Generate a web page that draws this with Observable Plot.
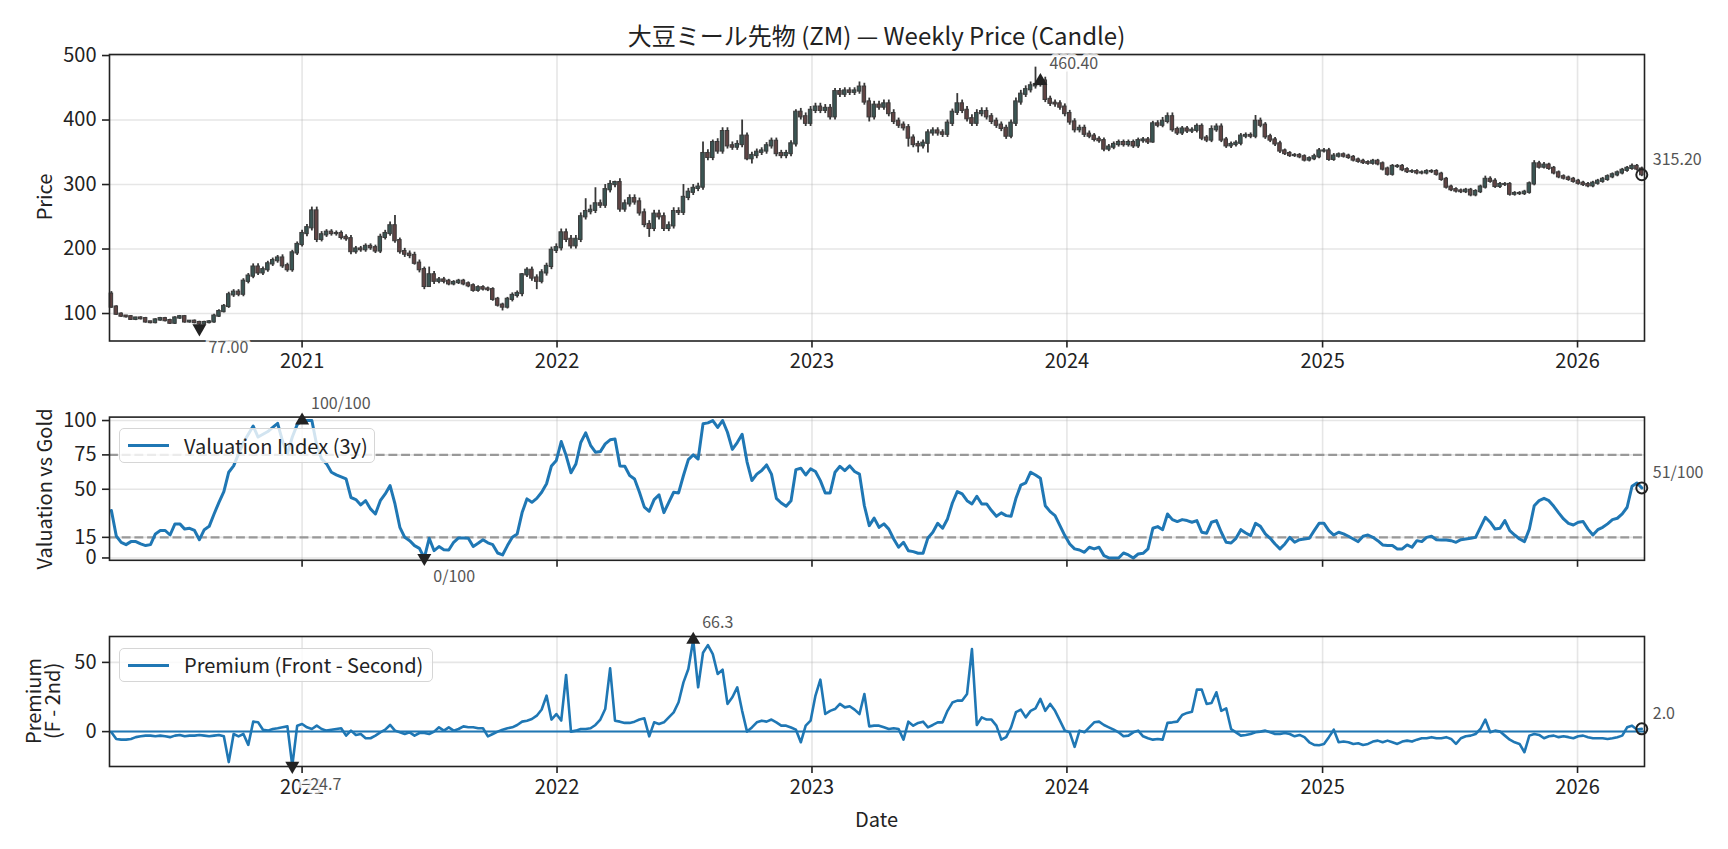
<!DOCTYPE html>
<html>
<head>
<meta charset="utf-8">
<script src="https://cdn.jsdelivr.net/npm/d3@7"></script>
<script src="https://cdn.jsdelivr.net/npm/@observablehq/plot@0.6"></script>
<style>
  html, body { margin: 0; padding: 0; background: #fff; }
  #wrap { position: relative; width: 1728px; height: 849px; overflow: hidden;
          font-family: "Noto Sans CJK JP", "Noto Sans", sans-serif; color: #222; }
  .abs { position: absolute; white-space: nowrap; }
  .ctr { transform: translate(-50%, -50%); }
  .rot { writing-mode: vertical-rl; transform: translate(-50%, -50%) rotate(180deg); text-align: center; }
  .legend { position: absolute; background: rgba(255,255,255,0.8); border: 1.5px solid #d6d6d6;
            border-radius: 5px; box-sizing: border-box; font-size: 20px; }
  .legend .swatch { position: absolute; left: 8px; width: 41px; height: 3px; background: #1f77b4; }
  .legend .lbl { position: absolute; left: 64px; }
</style>
</head>
<body>
<div id="wrap"></div>
<script>
// ---------------- data ----------------
const startWeek = "2020-04-03";
const firstOpen = 130;
const close = [
  110,99,96,95,91,93,92,87,86,90,
  92,89,85,93,95,87,88,86,84,86,
  87,96,103,111,129,133,130,150,158,172,
  163,168,177,182,186,174,168,194,207,224,
  233,259,215,222,226,224,224,218,216,196,
  200,199,204,202,197,218,224,236,213,196,
  192,190,178,168,142,160,150,152,150,146,
  148,150,146,143,136,140,138,137,122,113,
  110,122,128,131,160,167,155,150,163,173,
  198,202,225,215,205,215,250,258,260,270,
  268,292,300,303,262,270,278,273,256,238,
  232,254,250,232,236,258,257,280,288,294,
  296,348,342,365,352,382,360,358,362,375,
  340,345,350,352,360,367,348,345,348,363,
  412,405,395,415,420,415,418,405,444,440,
  445,443,445,451,428,405,423,420,425,410,
  398,392,388,372,362,360,364,380,383,380,
  378,395,412,425,415,402,395,410,413,405,
  398,392,387,375,395,428,440,447,453,455,
  460.4,432,426,425,420,410,397,385,387,378,
  375,370,368,355,358,362,365,362,365,360,
  368,369,366,394,392,398,405,385,380,386,
  383,384,390,372,369,385,389,369,360,362,
  364,375,376,375,398,392,374,369,363,352,
  348,345,345,343,338,340,343,352,352,339,
  344,346,344,342,338,336,334,333,336,332,
  324,316,328,328,323,320,320,318,318,320,
  320,316,308,296,292,290,289,291,284,289,
  296,308,305,297,300,300,285,286,286,288,
  301,332,327,330,325,318,312,310,308,305,
  302,300,298,302,305,308,312,315,318,322,
  325,328,324,315.2
];
const wickUp = [
  4,2,2,1,2,1,2,2,1,2,
  2,2,2,2,2,2,1,2,2,2,
  2,3,3,3,4,4,4,4,4,5,
  5,4,4,4,4,5,4,4,4,5,
  5,6,6,5,4,4,4,4,4,5,
  4,4,4,4,4,5,5,6,16,4,
  5,5,5,5,4,12,5,4,4,3,
  3,3,3,3,3,3,3,3,3,3,
  3,3,4,4,2,4,5,5,5,5,
  5,6,6,6,6,6,6,20,8,25,
  6,8,6,2,6,6,6,6,6,6,
  6,6,6,6,6,6,6,20,6,6,
  6,18,6,4,6,6,6,6,6,25,
  5,5,5,5,5,5,5,5,5,5,
  4,6,6,6,6,6,6,6,5,5,
  5,5,5,8,6,6,6,6,6,6,
  6,5,5,5,5,5,5,5,5,5,
  5,5,5,16,6,6,6,6,6,6,
  5,5,5,5,5,6,6,6,6,27,
  3,6,5,5,5,5,5,5,5,5,
  5,4,4,4,4,4,4,4,4,4,
  4,4,4,4,5,6,6,6,4,4,
  4,4,4,4,4,6,5,5,4,4,
  4,4,4,4,9,5,4,4,4,4,
  3,3,3,3,3,3,4,4,4,4,
  4,3,3,3,3,3,3,3,3,3,
  3,3,3,3,3,3,3,3,3,3,
  3,3,3,3,3,3,3,3,3,3,
  3,5,4,4,3,3,3,3,3,3,
  3,5,4,4,3,3,3,3,3,3,
  3,3,3,3,3,3,3,3,3,3,
  3,4,3,3
];
const wickDn = [
  2,2,2,2,2,2,2,2,2,2,
  2,2,2,2,2,2,2,2,7,2,
  2,2,2,2,3,4,4,4,4,4,
  4,4,4,4,4,4,4,4,4,4,
  5,5,5,4,4,4,4,4,4,5,
  4,4,4,4,4,4,4,4,4,4,
  5,5,3,5,5,1,5,4,4,3,
  3,3,3,3,3,3,3,3,3,3,
  6,3,4,4,5,4,5,13,4,5,
  5,5,5,5,5,5,5,5,5,5,
  5,5,5,5,5,5,5,5,5,5,
  14,5,5,5,5,5,5,5,5,5,
  5,5,5,5,5,5,5,5,5,5,
  3,8,5,5,5,5,5,5,5,5,
  5,5,5,5,5,5,5,5,5,5,
  5,5,5,5,5,8,5,5,5,5,
  5,5,5,14,5,11,5,15,5,5,
  5,5,5,5,5,5,5,5,5,5,
  5,5,5,5,4,5,5,5,5,5,
  4,5,5,5,5,5,5,5,5,5,
  4,4,4,4,4,4,4,4,4,4,
  4,4,4,2,4,4,4,4,4,4,
  4,4,4,4,4,4,4,4,4,4,
  4,4,4,4,4,4,4,4,4,4,
  3,3,3,3,3,3,3,3,3,3,
  3,3,3,3,3,3,3,3,3,3,
  3,3,3,3,3,3,3,3,3,3,
  3,3,3,3,3,3,3,3,3,3,
  3,3,3,3,3,3,3,3,3,3,
  3,3,3,3,3,3,3,3,3,3,
  3,3,3,3,3,3,3,3,3,3,
  3,3,3,3
];
const valuation = [
  34.5,16,11.4,9.7,11.9,11.9,10.2,9,9.7,17.5,
  19.9,20,16.7,24.8,24.8,21,21.6,20,13.3,20.6,
  23,32,40.5,48.3,62.4,67,75.7,84,90,96,
  88,90,92,95,98,85,76,88,97,100,
  100,100,82,72,68.5,62.4,60.5,59,57.5,44,
  42.5,38.6,41.7,35.7,32,41.7,46.6,52.7,39.3,22.3,
  15,12.6,9,7,0,14.3,5.3,8.3,6,5.8,
  11.4,14.6,14.6,14.3,8.3,10.7,13.3,11,9.7,3.6,
  2.2,9,15,17.5,33,43,40.5,43.4,47.8,54,
  67,71,84.7,74.5,62,68.4,84,91,82,77,
  77.4,83,86,86.6,67,66.7,60,57.5,47.8,37,
  34,42.5,45.9,33,40.5,47.8,47.3,60,71.6,75,
  72,97.6,98.3,100,95,100,91.5,79,84,90,
  70,56.3,61,63.6,67.7,61,43.4,40,37.6,41.7,
  64.3,65.3,60.4,64.8,62.9,56.3,47.3,47.3,62.4,66.7,
  63.6,67,62.9,61,38,23.5,29,22.3,24.8,21,
  13.8,7.8,11.4,5.3,4.6,3.4,3.4,14.6,18.7,25.2,
  21.6,28.4,40,48.3,46.6,41.7,39.3,44.9,39.3,39.3,
  34.5,30.3,32.8,30.8,30.3,43.4,53,54.6,62.4,60.4,
  58,38,33.7,30.8,23.5,16.3,10.2,6.6,5.8,4.1,
  7.8,6.6,7.8,1.7,0,0,0,3.6,2.2,0,
  2.9,3.4,6.6,21.6,22.8,20.6,32,27.9,26.5,27.9,
  27.2,26,27.2,18.7,18,26,27.2,18.7,11.4,10.9,
  14.3,20.6,18.2,16.3,25.2,23,17.5,14.3,10.2,6.6,
  10.2,15,11.4,13.3,13.8,14.3,19.9,25.2,25.2,19.9,
  16.7,18.7,17.5,15.8,13.8,11.9,15.8,16.7,15,12.6,
  9.5,9,9,6.6,6.6,9.5,7.8,12.6,11.9,15,
  15.8,13.3,13.1,13.1,12.6,11.4,13.3,13.8,14.3,15,
  22.3,29.6,26,21,21.6,27.2,19.9,16.7,13.8,11.9,
  21,38,41.7,43.4,41.7,37.6,32.8,28.4,25.2,24,
  26,26.5,21,16.7,20.6,22.3,24.8,27.9,28.9,32,
  36.9,52.2,54.6,51
];
const premium = [
  -0.5,-5.3,-5.8,-5.8,-5.3,-4,-3.4,-2.9,-2.9,-3.4,
  -2.9,-3.4,-4,-2.9,-2.4,-3.4,-2.9,-2.9,-2.4,-2.9,
  -3.4,-2.9,-2.4,-3.4,-22,-1.7,-3.4,-1.7,-9.6,7.2,
  6.7,1.4,0.7,1.9,2.4,3.1,3.8,-24.7,4.3,5.5,
  3.1,1.9,4.3,1.9,0.7,1.4,1.9,2.4,-2.9,0.7,
  -2.4,-1.7,-4.8,-4.8,-2.9,-0.5,1.4,4.8,0.7,-0.5,
  -1.7,-0.5,-2.9,-1,-1,-1.7,0,3.1,0.7,3.1,
  0.7,1.9,3.8,3.1,3.1,2.4,2.4,-3.4,-1.7,0,
  1.4,2.4,3.1,4.8,7.2,7.9,9.1,11.5,16,26,
  8.7,12.7,8,40.9,0,0.7,1.9,1.9,2.4,4.8,
  8.7,16.3,45.7,7.9,7.2,6.3,6.3,7.2,8.7,9.6,
  -3.4,6.7,5.5,6.7,10.3,13.9,21.2,35.6,45.2,66.3,
  32,57,62.5,56,41.6,44.7,20,24.8,32,15,
  0,3,6.7,7.9,7.2,8.7,6.7,4.3,4.3,3,
  1.4,-7.7,4.3,7.9,26,37.5,12.7,15,16.3,20,
  17.5,18.3,15.9,12.7,27.2,3.8,4.3,4.3,3.1,1.9,
  2.4,1.9,-5.8,7.2,4.3,6.3,7.2,3.1,4.8,6.7,
  6.7,15,21,22.4,22.4,27.2,59.6,4.8,10.3,8.7,
  8.7,4.3,-5.8,-4,3.1,14,15.9,10.3,15,16.8,
  23.6,15,20,15,7.9,0.7,-0.5,-11,0.7,-0.5,
  3.1,6.7,7.2,4.8,3.1,1.4,-0.5,-3.4,-2.9,-0.5,
  0.7,-3.4,-4.8,-5.8,-5.3,-5.8,6.3,6.7,7.2,12,
  13.5,14.4,30.3,30.3,20,20.7,28.4,15,16.8,1.9,
  -0.5,-2.9,-2.4,-1.7,-0.5,0,0.7,-0.5,-1.7,-1.7,
  -1,-1.7,-3.4,-2.4,-4,-7.7,-9.6,-9.8,-9,-4,
  1.4,-7.7,-7.2,-7.7,-8.9,-8.4,-9.6,-8.9,-7.2,-6.5,
  -7.7,-6.5,-7.7,-8.9,-7.2,-6.5,-7.2,-5.8,-4.8,-4.8,
  -4,-4.8,-4.8,-4,-5.3,-8.9,-4.8,-3.4,-2.9,-1.7,
  1.9,8.7,-0.5,0.7,0,-2.9,-5.8,-7.7,-8.9,-14.9,
  -2.9,-1.7,-2.4,-4.8,-3.4,-2.9,-4,-3.4,-4,-4.8,
  -3.4,-2.9,-4,-4.8,-4.8,-4.8,-5.3,-4.8,-4,-2.9,
  3.1,4.3,1.5,2.0
];
const yearTicks = [2021, 2022, 2023, 2024, 2025, 2026];
const priceTicks = [100, 200, 300, 400, 500];
const valTicks = [0, 15, 50, 75, 100];
const valBands = [15, 75];
const premTicks = [0, 50];
const titleText = "大豆ミール先物 (ZM) — Weekly Price (Candle)";

// ---------------- build ----------------
const start = new Date(startWeek + "T00:00:00Z");
const dates = close.map((_, i) => d3.utcWeek.offset(start, i));
const candles = close.map((c, i) => {
  const open = i === 0 ? firstOpen : close[i - 1];
  return {date: dates[i], open, close: c,
          high: Math.max(open, c) + wickUp[i], low: Math.min(open, c) - wickDn[i]};
});
const valRows = valuation.map((v, i) => ({date: dates[i], v}));
const premRows = premium.map((v, i) => ({date: dates[i], v}));
const yearDates = yearTicks.map(y => new Date(Date.UTC(y, 0, 1)));

const xDomain = [new Date("2020-03-31T07:00:00Z"), new Date("2026-04-06T21:00:00Z")];
const FONT = '"Noto Sans CJK JP", "Noto Sans", sans-serif';
const baseStyle = {fontFamily: FONT, fontSize: "20px", color: "#222", background: "transparent", overflow: "visible"};
const gridStyle = {stroke: "#b0b0b0", strokeOpacity: 0.32, strokeWidth: 1.6};
const annoStyle = {textAnchor: "start", lineAnchor: "middle", fill: "#555", fontSize: 16,
                   stroke: "white", strokeWidth: 7, strokeOpacity: 0.8};
const blue = "#1f77b4";

function markersFor(rows, yKey, fmt, maxRow, minRow, lastRow) {
  return [
    Plot.dot([maxRow], {x: "date", y: yKey, symbol: "triangle", r: 5.2, fill: "#222"}),
    Plot.dot([minRow], {x: "date", y: yKey, symbol: "triangle", r: 5.2, fill: "#222", rotate: 180}),
    Plot.dot([lastRow], {x: "date", y: yKey, r: 5.5, fill: "none", stroke: "#222", strokeWidth: 2}),
    Plot.text([maxRow], {x: "date", y: yKey, text: d => fmt(d[yKey]), dx: 9, dy: -17, ...annoStyle}),
    Plot.text([minRow], {x: "date", y: yKey, text: d => fmt(d[yKey]), dx: 9, dy: 19, ...annoStyle}),
    Plot.text([lastRow], {x: "date", y: yKey, text: d => fmt(d[yKey]), dx: 11, dy: -15, ...annoStyle})
  ];
}

const wrap = document.getElementById("wrap");
function place(node, top) {
  node.style.position = "absolute";
  node.style.left = "0px";
  node.style.top = top + "px";
  node.style.maxWidth = "none";
  wrap.appendChild(node);
}

// ---- Panel 1: candles ----
const maxClose = candles[d3.maxIndex(candles, d => d.close)];
const minLow = candles[d3.minIndex(candles, d => d.low)];
const lastC = candles[candles.length - 1];
const p1 = Plot.plot({
  width: 1728, height: 380,
  marginLeft: 109, marginRight: 84, marginTop: 54, marginBottom: 39.5,
  style: baseStyle,
  x: {type: "utc", domain: xDomain},
  y: {domain: [57.4, 501.6]},
  marks: [
    Plot.gridX(yearDates, gridStyle),
    Plot.gridY(priceTicks, gridStyle),
    Plot.ruleX(candles, {x: "date", y1: "low", y2: "high", stroke: "#383838", strokeWidth: 1.8}),
    Plot.rectY(candles, {
      x1: d => d3.utcHour.offset(d.date, -60), x2: d => d3.utcHour.offset(d.date, 60),
      y1: "open", y2: "close", insetTop: -0.6, insetBottom: -0.6,
      fill: d => d.close >= d.open ? "#3a5553" : "#604444", stroke: "#3a3a3a", strokeWidth: 1
    }),
    Plot.frame({stroke: "#222", strokeWidth: 1.6}),
    Plot.axisX({ticks: yearDates, tickFormat: d3.utcFormat("%Y"), tickSize: 7, tickPadding: 6, strokeWidth: 1.6, label: null, fontSize: 20}),
    Plot.axisY({ticks: priceTicks, tickSize: 7, tickPadding: 6, strokeWidth: 1.6, label: null, fontSize: 20}),
    Plot.dot([maxClose], {x: "date", y: "close", symbol: "triangle", r: 5.2, fill: "#222"}),
    Plot.dot([minLow], {x: "date", y: "low", symbol: "triangle", r: 5.2, fill: "#222", rotate: 180}),
    Plot.dot([lastC], {x: "date", y: "close", r: 5.5, fill: "none", stroke: "#222", strokeWidth: 2}),
    Plot.text([maxClose], {x: "date", y: "close", text: d => d3.format(".2f")(d.close), dx: 9, dy: -17, ...annoStyle}),
    Plot.text([minLow], {x: "date", y: "low", text: d => d3.format(".2f")(d.low), dx: 9, dy: 20, ...annoStyle}),
    Plot.text([lastC], {x: "date", y: "close", text: d => d3.format(".2f")(d.close), dx: 11, dy: -15, ...annoStyle})
  ]
});
place(p1, 0);

// ---- Panel 2: valuation ----
const vMax = valRows[d3.maxIndex(valRows, d => d.v)];
const vMin = valRows[d3.minIndex(valRows, d => d.v)];
const vLast = valRows[valRows.length - 1];
const p2 = Plot.plot({
  width: 1728, height: 200,
  marginLeft: 109, marginRight: 84, marginTop: 36.6, marginBottom: 20.2,
  style: baseStyle,
  x: {type: "utc", domain: xDomain},
  y: {domain: [-1.7, 102.5]},
  marks: [
    Plot.gridX(yearDates, gridStyle),
    Plot.gridY(valTicks, gridStyle),
    Plot.ruleY(valBands, {stroke: "#999", strokeWidth: 2.2, strokeDasharray: "8.9,3.8"}),
    Plot.line(valRows, {x: "date", y: "v", stroke: blue, strokeWidth: 3}),
    Plot.frame({stroke: "#222", strokeWidth: 1.6}),
    Plot.axisX({ticks: yearDates, tickFormat: () => "", tickSize: 7, strokeWidth: 1.6, label: null}),
    Plot.axisY({ticks: valTicks, tickSize: 7, tickPadding: 6, strokeWidth: 1.6, label: null, fontSize: 20}),
    ...markersFor(valRows, "v", v => `${Math.round(v)}/100`, vMax, vMin, vLast)
  ]
});
place(p2, 380);

// ---- Panel 3: premium ----
const pMax = premRows[d3.maxIndex(premRows, d => d.v)];
const pMin = premRows[d3.minIndex(premRows, d => d.v)];
const pLast = premRows[premRows.length - 1];
const p3 = Plot.plot({
  width: 1728, height: 269,
  marginLeft: 109, marginRight: 84, marginTop: 56, marginBottom: 83,
  style: baseStyle,
  x: {type: "utc", domain: xDomain},
  y: {domain: [-25.2, 68.7]},
  marks: [
    Plot.gridX(yearDates, gridStyle),
    Plot.gridY(premTicks, gridStyle),
    Plot.ruleY([0], {stroke: blue, strokeWidth: 2}),
    Plot.line(premRows, {x: "date", y: "v", stroke: blue, strokeWidth: 2.6}),
    Plot.frame({stroke: "#222", strokeWidth: 1.6}),
    Plot.axisX({ticks: yearDates, tickFormat: d3.utcFormat("%Y"), tickSize: 7, tickPadding: 6, strokeWidth: 1.6, label: null, fontSize: 20}),
    Plot.axisY({ticks: premTicks, tickSize: 7, tickPadding: 6, strokeWidth: 1.6, label: null, fontSize: 20}),
    ...markersFor(premRows, "v", d3.format(".1f"), pMax, pMin, pLast)
  ]
});
place(p3, 580);

// ---------------- texts & legends ----------------
function addDiv(html, cls, left, top, extra) {
  const d = document.createElement("div");
  d.className = "abs " + cls;
  d.style.left = left + "px";
  d.style.top = top + "px";
  Object.assign(d.style, extra || {});
  d.innerHTML = html;
  wrap.appendChild(d);
  return d;
}
addDiv(titleText, "ctr", 876.5, 34, {fontSize: "24px"});
addDiv("Date", "ctr", 876.5, 818, {fontSize: "20px"});
addDiv("Price", "rot", 44, 197, {fontSize: "20px", lineHeight: "22px"});
addDiv("Valuation vs Gold", "rot", 44, 489, {fontSize: "20px", lineHeight: "22px"});
addDiv("Premium<br>(F - 2nd)", "rot", 42, 701, {fontSize: "20px", lineHeight: "19px"});

function legend(label, left, top, width, height) {
  const box = document.createElement("div");
  box.className = "legend";
  Object.assign(box.style, {left: left + "px", top: top + "px", width: width + "px", height: height + "px"});
  const sw = document.createElement("div");
  sw.className = "swatch";
  sw.style.top = (height / 2 - 2.5) + "px";
  const tx = document.createElement("div");
  tx.className = "lbl";
  tx.style.top = "50%";
  tx.style.transform = "translateY(-52%)";
  tx.textContent = label;
  box.appendChild(sw); box.appendChild(tx);
  wrap.appendChild(box);
}
legend("Valuation Index (3y)", 119, 428, 256, 35);
legend("Premium (Front - Second)", 119, 648, 314, 34);
</script>
</body>
</html>
